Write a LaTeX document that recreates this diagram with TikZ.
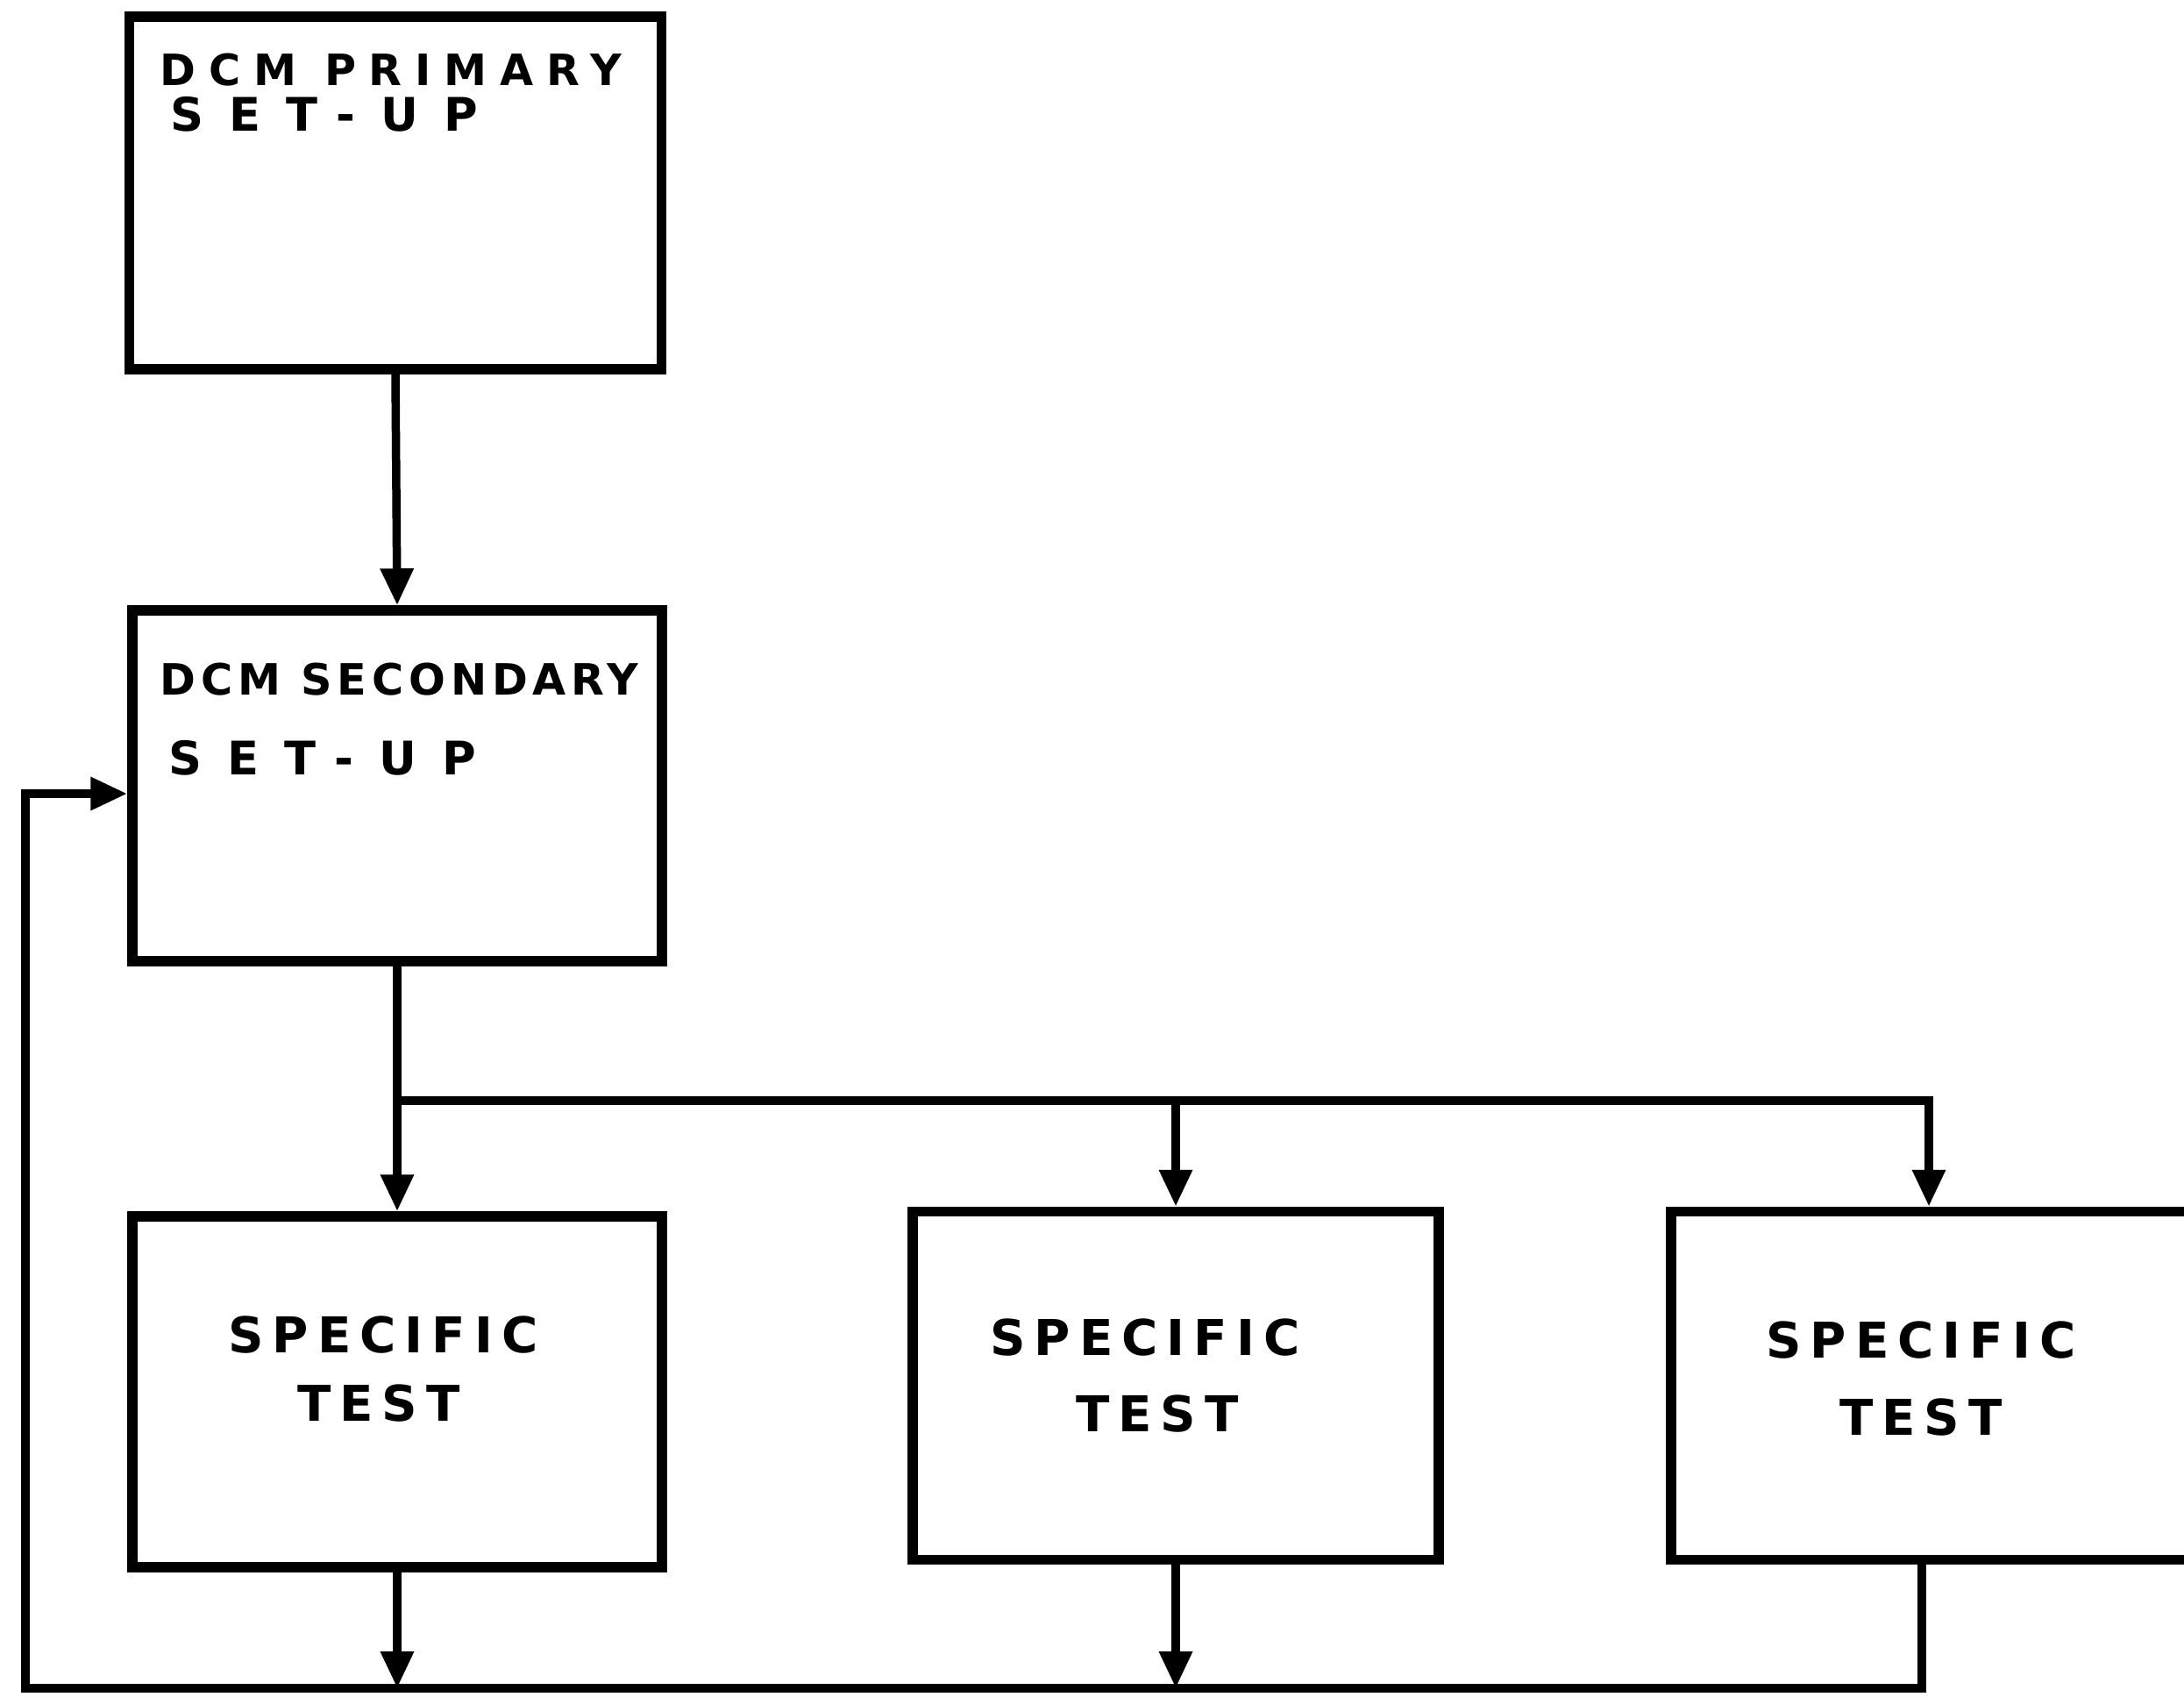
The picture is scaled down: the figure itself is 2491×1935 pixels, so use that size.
\documentclass[tikz,border=0pt]{standalone}
\usepackage{fontspec}
\newfontfamily\hand[LetterSpace=18]{DejaVu Sans}
\newfontfamily\handp[LetterSpace=30]{DejaVu Sans}
\newfontfamily\handn[LetterSpace=12]{DejaVu Sans}
\newfontfamily\handw[LetterSpace=55]{DejaVu Sans}
\usetikzlibrary{arrows.meta}
\tikzset{
  blk/.style={draw=black, line width=1.15mm, rectangle, inner sep=0pt},
  conn/.style={draw=black, line width=0.95mm, line join=miter},
  tip/.style={-{Triangle[width=3.6mm,length=4.2mm]}},
  ptxt/.style={font=\handp\bfseries\fontsize{14}{17}\selectfont, inner sep=0pt, anchor=west},
  ntxt/.style={font=\handn\bfseries\fontsize{14}{17}\selectfont, inner sep=0pt, anchor=west},
  wtxt/.style={font=\handw\bfseries\fontsize{15}{18}\selectfont, inner sep=0pt, anchor=west},
  ctxt/.style={font=\hand\bfseries\fontsize{16}{19}\selectfont, inner sep=0pt, anchor=center}
}
\begin{document}
\begin{tikzpicture}[x=0.1mm,y=-0.1mm]
\clip (0,0) rectangle (2491,1935);
\fill[white] (0,0) rectangle (2491,1935);
% boxes
\node[blk, minimum width=60.7mm, minimum height=40.2mm] (b1) at (451,220) {};
\node[blk, minimum width=60.4mm, minimum height=40.0mm] (b2) at (453,896) {};
\node[blk, minimum width=60.4mm, minimum height=40.0mm] (b3) at (453,1587) {};
\node[blk, minimum width=60.0mm, minimum height=39.7mm] (b4) at (1341,1580) {};
\node[blk, minimum width=70.0mm, minimum height=39.7mm] (b5) at (2256,1580) {};
% texts
\node[ptxt] (t1a) at (182,80) {DCM PRIMARY};
\node[wtxt] (t1b) at (194,130) {SET-UP};
\node[ntxt] (t2a) at (182,775) {DCM SECONDARY};
\node[wtxt] (t2b) at (192,864) {SET-UP};
\node[ctxt] (t3a) at (437,1522) {SPECIFIC};
\node[ctxt] (t3b) at (432,1600) {TEST};
\node[ctxt] (t4a) at (1306,1525) {SPECIFIC};
\node[ctxt] (t4b) at (1320,1612) {TEST};
\node[ctxt] (t5a) at (2191,1528) {SPECIFIC};
\node[ctxt] (t5b) at (2191,1616) {TEST};
% junction coordinates
\coordinate (jl) at (453,1255);
\coordinate (jr) at (2200,1255);
\coordinate (bl) at (29,1925);
\coordinate (br) at (2192,1925);
\coordinate (fb) at ([yshift=-0.9mm]b2.west);
% connectors
\draw[conn,tip] (b1.south) -- (b2.north);
\draw[conn] (b2.south) -- (jl) -- (jr) -- ([yshift=-2mm]jr);
\draw[conn,tip] (jl) -- (b3.north);
\draw[conn,tip] (b4.north |- jl) -- (b4.north);
\draw[conn,tip] (jr) -- (jr |- b5.north);
\draw[conn,tip] (b3.south) -- (b3.south |- bl);
\draw[conn,tip] (b4.south) -- (b4.south |- bl);
\draw[conn] (br |- b5.south) -- (br) -- (bl) -- (bl |- fb) -- ([xshift=5mm]bl |- fb);
\draw[conn,tip] (bl |- fb) -- (fb);
\end{tikzpicture}
\end{document}
